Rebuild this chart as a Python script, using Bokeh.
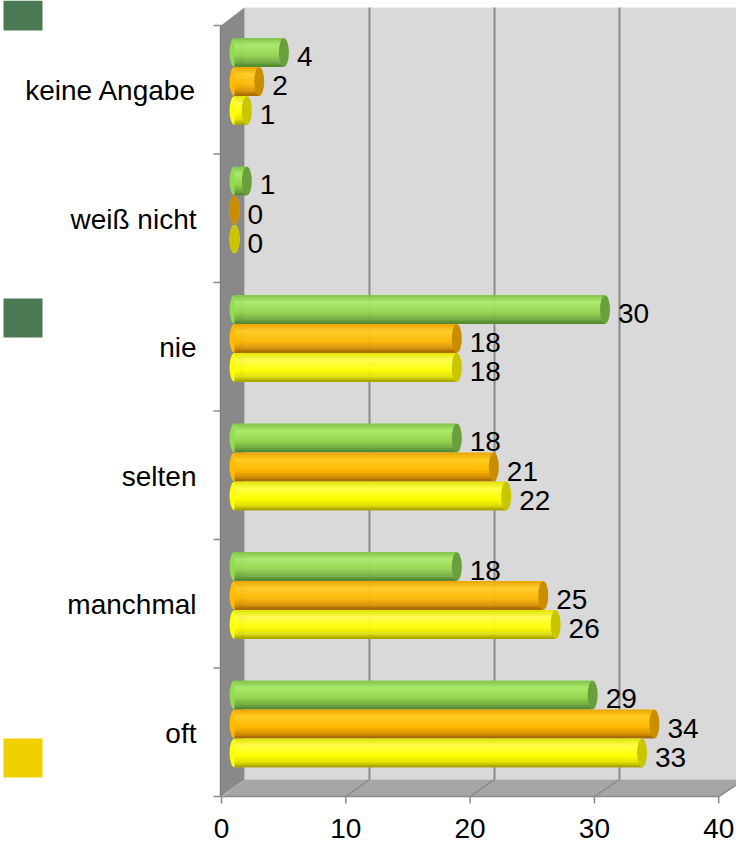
from bokeh.plotting import figure
from bokeh.models import Range1d, ColumnDataSource
from bokeh.embed import file_html
from bokeh.resources import INLINE
from bokeh.core.properties import value

# ---------------- data ----------------
categories = ["oft", "manchmal", "selten", "nie", "weiß nicht", "keine Angabe"]  # bottom -> top
green_vals = [29, 18, 18, 30, 1, 4]
orange_vals = [34, 25, 21, 18, 0, 2]
yellow_vals = [33, 26, 22, 18, 0, 1]
x_ticks = [0, 10, 20, 30, 40]
x_tick_labels = ["0", "10", "20", "30", "40"]

# ---------------- style / layout ----------------
FONT = value("Liberation Sans")
FS = "28px"
W, H = 736, 845
IMG_X0, IMG_Y0 = 0, 0

# calibration of the three depth planes (image pixel = a + b * value)
BAR_A, BAR_B = 234.0, 12.35     # bars
FRONT_A, FRONT_B = 221.0, 12.43  # front plane (axis ticks)
BACK_A, BACK_B = 244.0, 12.5     # back wall gridlines
BAR_Y0, BAND = 723.5, 128.5      # bar group centre of first category, band height
FRONT_Y0 = 731.75
FRONT_BOTTOM, BACK_BOTTOM = 796.0, 779.0
FRONT_TOP, BACK_TOP = 25.0, 7.0

def xr(a, b):
    return Range1d((IMG_X0 - a) / b, (IMG_X0 + W - a) / b)

def yr(y0, band):
    return Range1d(-(IMG_Y0 + H - y0) / band, (y0 - IMG_Y0) / band)

p = figure(width=W, height=H, x_range=xr(BAR_A, BAR_B), y_range=yr(BAR_Y0, BAND),
           output_backend="svg", toolbar_location=None, min_border=0,
           x_axis_type=None, y_axis_type=None)
p.min_border_left = p.min_border_right = p.min_border_top = p.min_border_bottom = 0
p.outline_line_color = None
p.background_fill_color = "white"
p.border_fill_color = "white"
p.extra_x_ranges = {"px": Range1d(IMG_X0, IMG_X0 + W),
                    "fx": xr(FRONT_A, FRONT_B),
                    "bx": xr(BACK_A, BACK_B)}
p.extra_y_ranges = {"py": Range1d(IMG_Y0 + H, IMG_Y0),
                    "fy": yr(FRONT_Y0, BAND)}

def fpx(v):
    return FRONT_A + FRONT_B * v

def bpx(v):
    return BACK_A + BACK_B * v

GRID = "#8a8a8a"
xmax = x_ticks[-1]

# back wall
p.quad(left=[BACK_A], right=[bpx(xmax) + 10], top=[BACK_TOP], bottom=[BACK_BOTTOM],
       x_range_name="px", y_range_name="py", fill_color="#d9d9d9", line_color=None)
# floor
p.patch([FRONT_A, BACK_A, bpx(xmax), fpx(xmax)],
        [FRONT_BOTTOM, BACK_BOTTOM, BACK_BOTTOM, FRONT_BOTTOM],
        x_range_name="px", y_range_name="py", fill_color="#a6a6a6", line_color=None)
# left wall
p.patch([FRONT_A - 0.5, BACK_A, BACK_A, FRONT_A - 0.5],
        [FRONT_TOP, BACK_TOP, BACK_BOTTOM, FRONT_BOTTOM],
        x_range_name="px", y_range_name="py", fill_color="#898989", line_color=None)
# back gridlines
gv = [t for t in x_ticks if t > 0]
p.segment(x0=gv, x1=gv, y0=[BACK_TOP] * len(gv), y1=[BACK_BOTTOM] * len(gv),
          x_range_name="bx", y_range_name="py", line_color=GRID, line_width=2)
# floor gridlines
p.segment(x0=[fpx(t) for t in gv], x1=[bpx(t) for t in gv],
          y0=[FRONT_BOTTOM] * len(gv), y1=[BACK_BOTTOM] * len(gv),
          x_range_name="px", y_range_name="py", line_color=GRID, line_width=1.5)
# bottom axis line and ticks
p.segment(x0=[x_ticks[0]], x1=[x_ticks[-1]], y0=[FRONT_BOTTOM], y1=[FRONT_BOTTOM],
          x_range_name="fx", y_range_name="py", line_color=GRID, line_width=1.5)
p.segment(x0=x_ticks, x1=x_ticks, y0=[FRONT_BOTTOM] * len(x_ticks), y1=[FRONT_BOTTOM + 7] * len(x_ticks),
          x_range_name="fx", y_range_name="py", line_color=GRID, line_width=1.5)
# left axis line and ticks
bounds = [i - 0.5 for i in range(len(categories) + 1)]
p.segment(x0=[FRONT_A - 1], x1=[FRONT_A - 1], y0=[bounds[0]], y1=[bounds[-1]],
          x_range_name="px", y_range_name="fy", line_color="#7f7f7f", line_width=1.5)
p.segment(x0=[FRONT_A - 8] * len(bounds), x1=[FRONT_A] * len(bounds), y0=bounds, y1=bounds,
          x_range_name="px", y_range_name="fy", line_color=GRID, line_width=1.5)

# ---------------- cylinders ----------------
def hex2rgb(h):
    h = h.lstrip("#")
    return tuple(int(h[i:i + 2], 16) for i in (0, 2, 4))

def rgb2hex(c):
    return "#%02x%02x%02x" % tuple(max(0, min(255, int(round(x)))) for x in c)

def shade(stops, t):
    for (t0, c0), (t1, c1) in zip(stops[:-1], stops[1:]):
        if t0 <= t <= t1:
            f = (t - t0) / (t1 - t0)
            a, b = hex2rgb(c0), hex2rgb(c1)
            return rgb2hex([a[i] + (b[i] - a[i]) * f for i in range(3)])
    return stops[-1][1]

styles = [
    dict(vals=green_vals, off=0.2257,
         stops=[(0, "#80c24a"), (0.25, "#aaea6a"), (0.6, "#94d650"), (0.85, "#70aa40"), (1, "#4c8231")],
         cap="#6b9f3d"),
    dict(vals=orange_vals, off=0.0,
         stops=[(0, "#eaa400"), (0.25, "#ffcc22"), (0.6, "#ffb800"), (0.85, "#d99200"), (1, "#9a6200")],
         cap="#c98e00"),
    dict(vals=yellow_vals, off=-0.2257,
         stops=[(0, "#e2e200"), (0.25, "#ffff4a"), (0.6, "#ffff00"), (0.85, "#dede00"), (1, "#9c9a00")],
         cap="#c9c600"),
]
BAR_H = 0.222
N = 14
ys_idx = list(range(len(categories)))

for st in styles:
    vals = st["vals"]
    centers = [i + st["off"] for i in ys_idx]
    mid = shade(st["stops"], 0.55)
    # rounded left end
    p.ellipse(x=[0] * len(vals), y=centers, width=10, height=BAR_H, width_units="screen",
              fill_color=mid, line_color=None)
    ys, lefts, rights, cols = [], [], [], []
    for c, v in zip(centers, vals):
        for k in range(N):
            t = (k + 0.5) / N
            ys.append(c + BAR_H / 2 - t * BAR_H)
            lefts.append(0)
            rights.append(v)
            cols.append(shade(st["stops"], t))
    src = ColumnDataSource(dict(y=ys, left=lefts, right=rights, color=cols))
    p.hbar(y="y", left="left", right="right", height=BAR_H / N * 1.15, source=src,
           fill_color="color", line_color=None)
    # end caps
    p.ellipse(x=vals, y=centers, width=10, height=BAR_H, width_units="screen",
              fill_color=st["cap"], line_color=None)
    # value labels
    p.text(x=vals, y=centers, text=[str(v) for v in vals], x_offset=13, y_offset=4,
           text_baseline="middle", text_align="left", text_font=FONT,
           text_font_size=FS, text_color="black")

# category labels
p.text(x=[196] * len(categories), y=ys_idx, text=categories, x_range_name="px", y_range_name="fy",
       y_offset=1, text_baseline="middle", text_align="right", text_font=FONT,
       text_font_size=FS, text_color="black")
# x tick labels
p.text(x=x_ticks, y=[828] * len(x_ticks), text=x_tick_labels, x_range_name="fx", y_range_name="py",
       text_baseline="middle", text_align="center", text_font=FONT,
       text_font_size=FS, text_color="black")

# legend swatches (labels not visible in the original)
p.quad(left=[3] * 3, right=[42] * 3, top=[0, 298, 738], bottom=[30, 337, 777],
       x_range_name="px", y_range_name="py",
       fill_color=["#4b7a52", "#4b7a52", "#f0d000"], line_color=None)

open("out.html", "w").write(file_html(p, INLINE))
